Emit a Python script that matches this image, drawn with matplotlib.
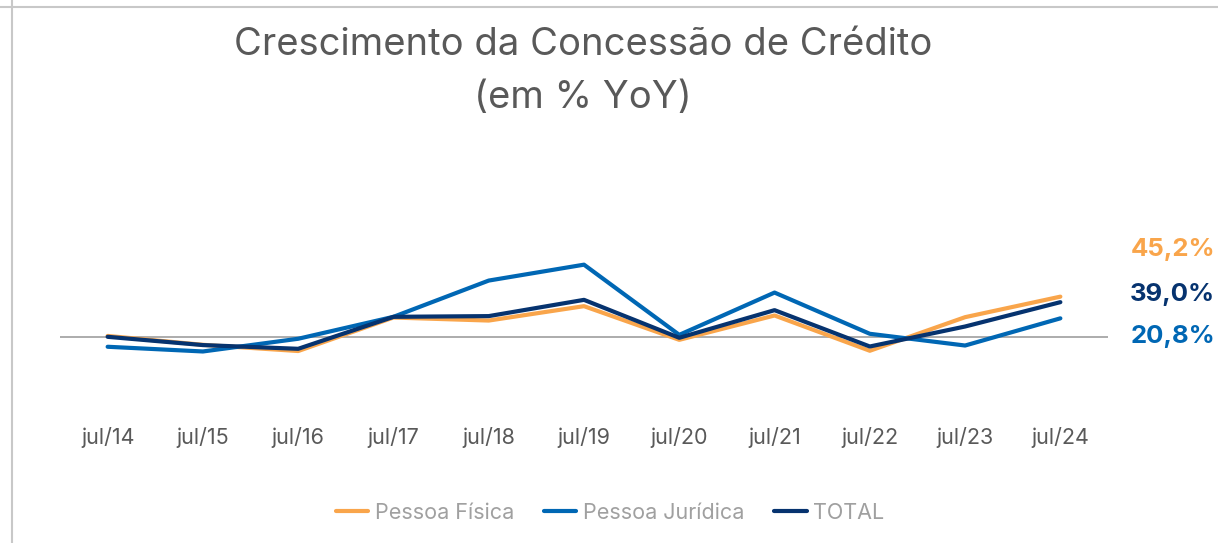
import matplotlib
matplotlib.use("Agg")
import matplotlib.pyplot as plt
from matplotlib.lines import Line2D

# data (% YoY)
months = ["jul/14", "jul/15", "jul/16", "jul/17", "jul/18", "jul/19",
          "jul/20", "jul/21", "jul/22", "jul/23", "jul/24"]
pessoa_fisica = [1.0, -9.0, -16.0, 21.7, 18.3, 34.5, -3.4, 24.0, -15.7, 22.1, 45.2]
pessoa_juridica = [-11.2, -16.5, -2.2, 22.5, 63.3, 81.2, 2.2, 49.8, 3.4, -9.8, 20.8]
total = [0.0, -9.3, -13.5, 22.5, 23.3, 41.6, -1.1, 30.0, -10.9, 11.6, 39.0]
end_labels = ["45,2%", "39,0%", "20,8%"]

C_PF = "#F9A54B"
C_PJ = "#0067B4"
C_TOT = "#06336F"

plt.rcParams["font.family"] = ["Inter", "DejaVu Sans"]

W, H = 1218, 543
fig = plt.figure(figsize=(W / 100, H / 100), dpi=100)
ax = fig.add_axes([60 / W, 1 - 415 / H, 1048 / W, 255 / H])

xs = list(range(len(months)))
ax.plot(xs, pessoa_fisica, color=C_PF, lw=3, solid_capstyle="round", zorder=3)
ax.plot(xs, pessoa_juridica, color=C_PJ, lw=3, solid_capstyle="round", zorder=4)
ax.plot(xs, total, color=C_TOT, lw=3, solid_capstyle="round", zorder=5)
ax.axhline(0, color="#A6A6A6", lw=1.3, zorder=1)

ax.set_xlim(-0.5, len(months) - 0.5)
ax.set_ylim(-88, 199)
ax.set_xticks(xs)
ax.set_xticklabels(months, fontsize=15.5, color="#595959")
ax.tick_params(axis="x", length=0, pad=9)
ax.set_yticks([])
for s in ax.spines.values():
    s.set_visible(False)

# title
fig.text(583 / W, 1 - 45 / H, "Crescimento da Concessão de Crédito",
         ha="center", va="center", fontsize=27.5, color="#595959")
fig.text(583 / W, 1 - 98 / H, "(em % YoY)",
         ha="center", va="center", fontsize=27.5, color="#595959")

# end-of-line value labels
for lab, yy, c in zip(end_labels, [250, 295, 336], [C_PF, C_TOT, C_PJ]):
    fig.text(1215 / W, 1 - yy / H, lab, ha="right", va="center",
             fontsize=18.5, fontweight="bold", color=c)

# legend
handles = [Line2D([], [], color=C_PF, lw=3, solid_capstyle="round"),
           Line2D([], [], color=C_PJ, lw=3, solid_capstyle="round"),
           Line2D([], [], color=C_TOT, lw=3, solid_capstyle="round")]
fig.legend(handles, ["Pessoa Física", "Pessoa Jurídica", "TOTAL"],
           loc="center", bbox_to_anchor=(610 / W, 1 - 513 / H), ncol=3,
           frameon=False, labelcolor="#A0A0A0",
           prop={"size": 15.5},
           handlelength=1.5, handletextpad=0.3, columnspacing=1.4)

# frame lines of the original slide
fig.add_artist(Line2D([0, 1], [1 - 7 / H, 1 - 7 / H], transform=fig.transFigure,
                      color="#C8C8C8", lw=1.5))
fig.add_artist(Line2D([12 / W, 12 / W], [0, 1], transform=fig.transFigure,
                      color="#C8C8C8", lw=1.5))

fig.savefig("out.png", dpi=100, facecolor="white")
